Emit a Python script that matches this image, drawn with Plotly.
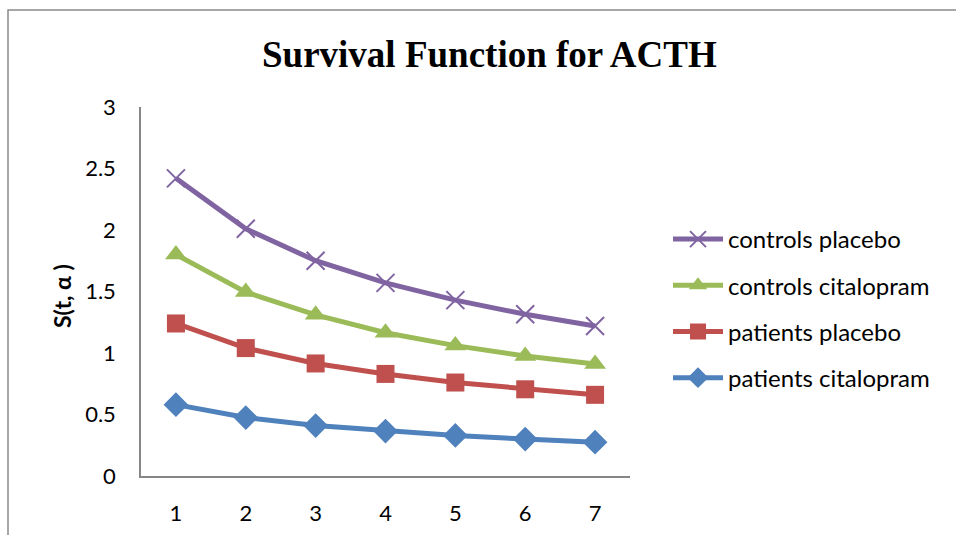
import plotly.graph_objects as go

x_vals = [1, 2, 3, 4, 5, 6, 7]
controls_placebo = [2.42, 2.01, 1.75, 1.57, 1.43, 1.315, 1.22]
controls_citalopram = [1.80, 1.495, 1.31, 1.165, 1.06, 0.975, 0.91]
patients_placebo = [1.24, 1.04, 0.915, 0.83, 0.76, 0.705, 0.66]
patients_citalopram = [0.58, 0.475, 0.41, 0.365, 0.33, 0.30, 0.275]
y_ticks = [0, 0.5, 1, 1.5, 2, 2.5, 3]
y_tick_text = ["0", "0.5", "1", "1.5", "2", "2.5", "3"]

W, H = 956, 535
L, R, T, B = 141, 630, 107, 476
pw, ph = R - L, B - T

def px(xp):
    return (xp - L) / pw

def py(yp):
    return (B - yp) / ph

fig = go.Figure()

series = [
    ("controls placebo", controls_placebo, "#8064A2", dict(symbol="x-thin", size=18, line=dict(width=2, color="#8064A2"))),
    ("controls citalopram", controls_citalopram, "#9BBB59", dict(symbol="triangle-up", size=19)),
    ("patients placebo", patients_placebo, "#C0504D", dict(symbol="square", size=18)),
    ("patients citalopram", patients_citalopram, "#4F81BD", dict(symbol="diamond", size=19)),
]

for i, (name, vals, color, mk) in enumerate(series):
    m = dict(color=color)
    m.update(mk)
    fig.add_trace(go.Scatter(
        x=x_vals, y=vals, name=name, mode="lines+markers",
        line=dict(color=color, width=5),
        marker=m, legendgroup=f"g{i}",
    ))

font_family = "Lato, Open Sans, sans-serif"

fig.update_layout(
    width=W, height=H,
    margin=dict(l=L, r=W - R, t=T, b=H - B, autoexpand=False),
    paper_bgcolor="white", plot_bgcolor="white",
    showlegend=True,
    legend=dict(
        x=px(668), y=py(217), xanchor="left", yanchor="top",
        font=dict(family=font_family, size=24, color="black"),
        tracegroupgap=12, itemwidth=50,
        bgcolor="rgba(0,0,0,0)",
    ),
    xaxis=dict(
        range=[0.5, 7.5], tickvals=x_vals, ticktext=[str(v) for v in x_vals],
        showline=True, linecolor="#868686", linewidth=1.5, showgrid=False, zeroline=False,
        ticks="outside", ticklen=17, tickcolor="rgba(0,0,0,0)", automargin=False,
        tickfont=dict(family=font_family, size=22, color="black"),
    ),
    yaxis=dict(
        range=[0, 3], tickvals=y_ticks, ticktext=y_tick_text,
        showline=True, linecolor="#868686", linewidth=1.5, showgrid=False, zeroline=False,
        ticks="outside", ticklen=19, tickcolor="rgba(0,0,0,0)", automargin=False,
        tickfont=dict(family=font_family, size=22, color="black"),
    ),
    annotations=[
        dict(text="<b>Survival Function for ACTH</b>", xref="paper", yref="paper",
             x=px(489), y=py(55), xanchor="center", yanchor="middle", showarrow=False,
             font=dict(family="Liberation Serif, Times New Roman, serif", size=37, color="black")),
        dict(text="<b>S(t, α )</b>", xref="paper", yref="paper",
             x=px(62), y=py(296), xanchor="center", yanchor="middle", showarrow=False,
             textangle=-90,
             font=dict(family=font_family, size=23, color="black")),
    ],
    shapes=[
        dict(type="rect", xref="paper", yref="paper",
             x0=px(8), x1=px(970), y0=py(560), y1=py(10),
             line=dict(color="#8a8a8a", width=1.5), fillcolor="rgba(0,0,0,0)", layer="below"),
    ],
)

fig.write_html("out.html")
